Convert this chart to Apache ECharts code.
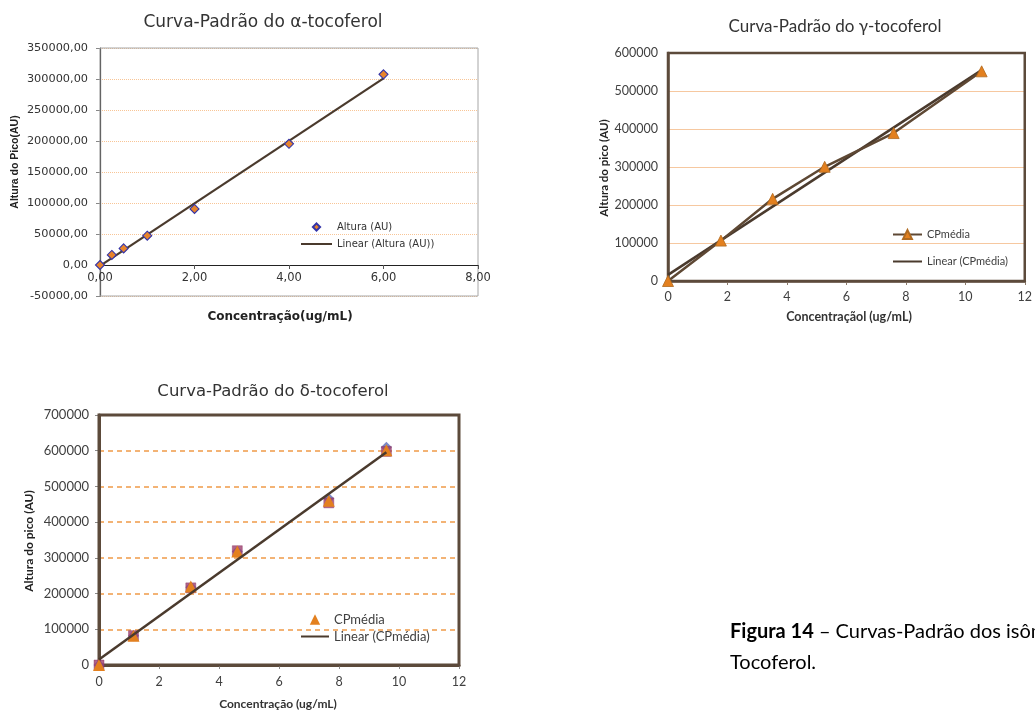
<!DOCTYPE html>
<html>
<head>
<meta charset="utf-8">
<script src="https://cdn.jsdelivr.net/npm/echarts@6/dist/echarts.min.js"></script>
<style>
html,body{margin:0;padding:0;background:#fff;}
#c{width:1035px;height:711px;}
</style>
</head>
<body>
<div id="c"></div>
<script>
// ---- Alpha-tocopherol ----
const alphaX = [0, 0.25, 0.5, 1, 2, 4, 6];
const alphaY = [0, 16200, 26800, 47300, 90500, 195500, 307500];
const alphaTrendX = [0, 6];
const alphaTrendY = [-1500, 301000];
const alphaYTicks = {min: -50000, max: 350000, interval: 50000};
const alphaXTicks = {min: 0, max: 8, interval: 2};

// ---- Gamma-tocopherol ----
const gammaX = [0, 1.78, 3.52, 5.27, 7.59, 10.55];
const gammaY = [0, 106300, 216200, 300500, 389300, 551800];
const gammaTrendX = [0, 10.55];
const gammaTrendY = [16000, 555000];
const gammaYTicks = {min: 0, max: 600000, interval: 100000};
const gammaXTicks = {min: 0, max: 12, interval: 2};

// ---- Delta-tocopherol ----
const deltaX = [0, 1.15, 3.06, 4.61, 7.66, 9.58];
const deltaTri = [0, 82100, 220000, 318000, 460000, 601000];
const deltaSq = [0, 82100, 216000, 320000, 454000, 598000];
const deltaDia = [0, 82100, 218000, 318000, 466000, 610000];
const deltaTrendX = [0, 9.58];
const deltaTrendY = [15700, 596000];
const deltaYTicks = {min: 0, max: 700000, interval: 100000};
const deltaXTicks = {min: 0, max: 12, interval: 2};

function pairs(xs, ys){ return xs.map((x,i)=>[x, ys[i]]); }
const commaFmt = v => v.toFixed(2).replace('.', ',');
const plainFmt = v => String(v);

const BROWN = '#5c4a3b';
const TREND = '#4a3a2d';
const ORANGE = '#e3801f';
const VER = 'DejaVu Sans';
const CAL = 'Lato';

const chart = echarts.init(document.getElementById('c'), null, {renderer:'canvas'});

const g1 = {left: 100, top: 48, width: 378, height: 248};
const zeroOffset = -g1.height * (0 - alphaYTicks.min) / (alphaYTicks.max - alphaYTicks.min);

const hiddenSym = {opacity: 0};

const option = {
  backgroundColor: '#fff',
  animation: false,
  grid: [
    Object.assign({show: true, borderColor: '#a6a6a6', borderWidth: 1, z: 1}, g1),
    {left: 668, top: 53, width: 363, height: 228, show: true, borderColor: BROWN, borderWidth: 2.5, z: 1},
    {left: 99, top: 415, width: 360, height: 250, show: true, borderColor: BROWN, borderWidth: 3, z: 1}
  ],
  xAxis: [
    {gridIndex: 0, type: 'value', min: alphaXTicks.min, max: alphaXTicks.max, interval: alphaXTicks.interval,
     offset: zeroOffset,
     axisLine: {show: true, onZero: false, lineStyle: {color: '#222', width: 1.2}},
     axisTick: {show: true, length: 4, lineStyle: {color: '#555'}},
     axisLabel: {formatter: commaFmt, fontFamily: VER, fontSize: 11.5, color: '#333', margin: 7},
     splitLine: {show: false}, z: 2},
    {gridIndex: 1, type: 'value', min: gammaXTicks.min, max: gammaXTicks.max, interval: gammaXTicks.interval,
     axisLine: {show: true, lineStyle: {color: BROWN, width: 2.5}},
     axisTick: {show: true, length: 4, lineStyle: {color: '#8a7a6a'}},
     axisLabel: {fontFamily: CAL, fontSize: 12.5, color: '#404040', margin: 9},
     splitLine: {show: false}},
    {gridIndex: 2, type: 'value', min: deltaXTicks.min, max: deltaXTicks.max, interval: deltaXTicks.interval,
     axisLine: {show: true, lineStyle: {color: BROWN, width: 3}},
     axisTick: {show: true, length: 4, lineStyle: {color: '#8a8a8a'}},
     axisLabel: {fontFamily: CAL, fontSize: 12.5, color: '#404040', margin: 10},
     splitLine: {show: false}}
  ],
  yAxis: [
    {gridIndex: 0, type: 'value', min: alphaYTicks.min, max: alphaYTicks.max, interval: alphaYTicks.interval,
     axisLine: {show: true, onZero: false, lineStyle: {color: '#222', width: 1.2}},
     axisTick: {show: true, length: 4, lineStyle: {color: '#888'}},
     axisLabel: {formatter: commaFmt, fontFamily: VER, fontSize: 11.3, color: '#333', margin: 12},
     splitLine: {show: true, lineStyle: {color: '#f8c596', type: 'dotted', width: 1}}},
    {gridIndex: 1, type: 'value', min: gammaYTicks.min, max: gammaYTicks.max, interval: gammaYTicks.interval,
     axisLine: {show: true, lineStyle: {color: BROWN, width: 2.5}},
     axisTick: {show: false},
     axisLabel: {formatter: plainFmt, fontFamily: CAL, fontSize: 12.5, color: '#404040', margin: 10},
     splitLine: {show: true, lineStyle: {color: '#f6c8a0', type: 'solid', width: 1}}},
    {gridIndex: 2, type: 'value', min: deltaYTicks.min, max: deltaYTicks.max, interval: deltaYTicks.interval,
     axisLine: {show: true, lineStyle: {color: BROWN, width: 3}},
     axisTick: {show: true, length: 4, lineStyle: {color: '#8a8a8a'}},
     axisLabel: {formatter: plainFmt, fontFamily: CAL, fontSize: 13, color: '#404040', margin: 10},
     splitLine: {show: true, lineStyle: {color: '#f09a48', type: [5, 4], width: 1.5}}}
  ],
  legend: [
    {left: 295, top: 217, orient: 'vertical', itemWidth: 31, itemHeight: 9, itemGap: 7,
     textStyle: {fontFamily: VER, fontSize: 10, color: '#333'},
     data: [{name: 'Altura (AU)', lineStyle: {opacity: 0}},
            {name: 'Linear (Altura (AU))', itemStyle: hiddenSym}]},
    {left: 887, top: 224, orient: 'vertical', itemWidth: 29, itemHeight: 11, itemGap: 16,
     textStyle: {fontFamily: CAL, fontSize: 11, color: '#404040'},
     data: ['CPmédia', {name: 'Linear (CPmédia)', itemStyle: hiddenSym}]},
    {left: 295, top: 608, orient: 'vertical', itemWidth: 28, itemHeight: 13, itemGap: 4,
     textStyle: {fontFamily: CAL, fontSize: 13, color: '#404040'},
     data: [{name: 'CPmédia ', lineStyle: {opacity: 0}},
            {name: 'Linear (CPmédia) ', itemStyle: hiddenSym}]}
  ],
  series: [
    {name: 'Linear (Altura (AU))', type: 'line', xAxisIndex: 0, yAxisIndex: 0, data: pairs(alphaTrendX, alphaTrendY),
     symbol: 'none', lineStyle: {color: TREND, width: 2.2}, itemStyle: {color: TREND}, z: 2},
    {name: 'Altura (AU)', type: 'line', xAxisIndex: 0, yAxisIndex: 0, data: pairs(alphaX, alphaY),
     symbol: 'diamond', symbolSize: 9, showAllSymbol: true, lineStyle: {opacity: 0, width: 0},
     itemStyle: {color: '#e8842c', borderColor: '#3434a8', borderWidth: 1.1}, z: 3},

    {name: 'Linear (CPmédia)', type: 'line', xAxisIndex: 1, yAxisIndex: 1, data: pairs(gammaTrendX, gammaTrendY),
     symbol: 'none', lineStyle: {color: TREND, width: 2.5}, itemStyle: {color: TREND}, z: 2},
    {name: 'CPmédia', type: 'line', xAxisIndex: 1, yAxisIndex: 1, data: pairs(gammaX, gammaY),
     symbol: 'triangle', symbolSize: 11, showAllSymbol: true,
     lineStyle: {color: '#5e4834', width: 2.5},
     itemStyle: {color: ORANGE, borderColor: '#b06a20', borderWidth: 0.8}, z: 3},

    {name: 'dDiamond', type: 'scatter', xAxisIndex: 2, yAxisIndex: 2, data: pairs(deltaX, deltaDia),
     symbol: 'diamond', symbolSize: 11, itemStyle: {color: '#5a6ab8'}, z: 2},
    {name: 'dSquare', type: 'scatter', xAxisIndex: 2, yAxisIndex: 2, data: pairs(deltaX, deltaSq),
     symbol: 'rect', symbolSize: 10, itemStyle: {color: '#9c3f6e', borderColor: '#8a3060', borderWidth: 0.5}, z: 3},
    {name: 'CPmédia ', type: 'line', xAxisIndex: 2, yAxisIndex: 2, data: pairs(deltaX, deltaTri),
     symbol: 'triangle', symbolSize: 12, showAllSymbol: true, lineStyle: {opacity: 0, width: 0},
     itemStyle: {color: ORANGE}, z: 4},
    {name: 'Linear (CPmédia) ', type: 'line', xAxisIndex: 2, yAxisIndex: 2, data: pairs(deltaTrendX, deltaTrendY),
     symbol: 'none', lineStyle: {color: TREND, width: 2.5}, itemStyle: {color: TREND}, z: 5}
  ],
  graphic: [
    {type: 'text', x: 263, y: 23, style: {text: 'Curva-Padrão do α-tocoferol', font: '17px "DejaVu Sans"', fill: '#333', textAlign: 'center', textVerticalAlign: 'middle'}},
    {type: 'text', x: 835, y: 27, style: {text: 'Curva-Padrão do γ-tocoferol', font: '17px Lato', fill: '#333', textAlign: 'center', textVerticalAlign: 'middle'}},
    {type: 'text', x: 273, y: 392, style: {text: 'Curva-Padrão do δ-tocoferol', font: '16.5px "DejaVu Sans"', fill: '#333', textAlign: 'center', textVerticalAlign: 'middle'}},

    {type: 'text', x: 280, y: 317, style: {text: 'Concentração(ug/mL)', font: 'bold 12px "DejaVu Sans"', fill: '#222', textAlign: 'center', textVerticalAlign: 'middle'}},
    {type: 'text', x: 15, y: 162, rotation: Math.PI/2, style: {text: 'Altura do Pico(AU)', font: 'bold 10.5px "Liberation Sans Narrow", "Liberation Sans"', fill: '#222', textAlign: 'center', textVerticalAlign: 'middle'}},

    {type: 'text', x: 849, y: 317, style: {text: 'Concentraçãol (ug/mL)', font: 'bold 12.5px Lato', fill: '#333', textAlign: 'center', textVerticalAlign: 'middle'}},
    {type: 'text', x: 604, y: 168, rotation: Math.PI/2, style: {text: 'Altura do pico (AU)', font: 'bold 11.5px Lato', fill: '#222', textAlign: 'center', textVerticalAlign: 'middle'}},

    {type: 'text', x: 278, y: 704, style: {text: 'Concentração (ug/mL)', font: 'bold 12px Lato', fill: '#333', textAlign: 'center', textVerticalAlign: 'middle'}},
    {type: 'text', x: 29, y: 541, rotation: Math.PI/2, style: {text: 'Altura do pico (AU)', font: 'bold 12px Lato', fill: '#222', textAlign: 'center', textVerticalAlign: 'middle'}},

    {type: 'text', x: 730, y: 632, style: {
      text: '{b|Figura 14} – Curvas-Padrão dos isômeros de',
      rich: {b: {font: 'bold 20px Lato', fill: '#000'}},
      font: '20px Lato', fill: '#000', textVerticalAlign: 'middle'}},
    {type: 'text', x: 730, y: 663, style: {text: 'Tocoferol.', font: '20px Lato', fill: '#000', textVerticalAlign: 'middle'}}
  ]
};
chart.setOption(option);
</script>
</body>
</html>
